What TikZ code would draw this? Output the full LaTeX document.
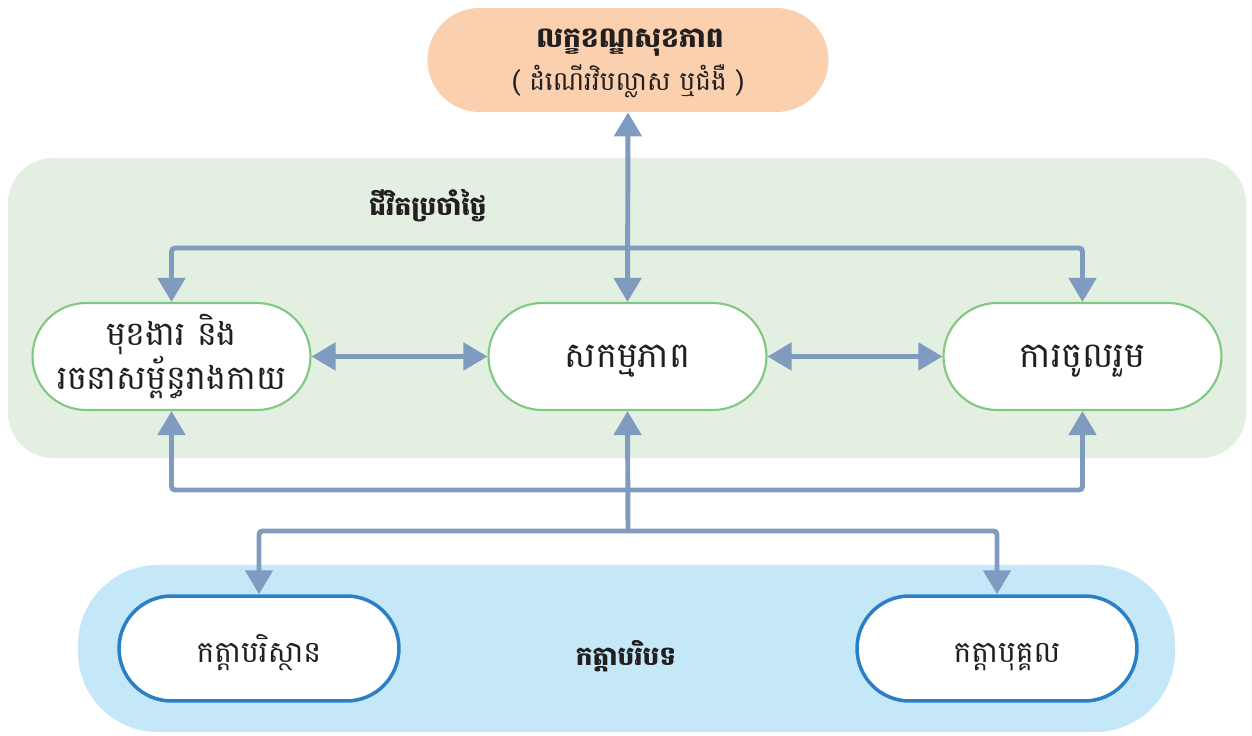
\documentclass[tikz,border=0pt]{standalone}
\usepackage{fontspec}
\newfontfamily\khmer[Script=Khmer]{Battambang}
\usepackage{tikz}
\usetikzlibrary{arrows.meta, positioning}

\definecolor{peach}{HTML}{FAD0AF}
\definecolor{lifebg}{HTML}{E3EFE0}
\definecolor{lifeline}{HTML}{80C883}
\definecolor{ctxbg}{HTML}{C5E8F8}
\definecolor{ctxline}{HTML}{2A7FC6}
\definecolor{arrowblue}{HTML}{7F9BC0}
\definecolor{ink}{HTML}{231F20}

\tikzset{
	box/.style={rectangle, fill=white, text=ink, align=center, font=\khmer\fontsize{20}{26}\selectfont},
	oneline/.style={text height=0.7cm, text depth=0.24cm},
	lifebox/.style={box, draw=lifeline, line width=1.2pt, minimum width=5.56cm, minimum height=2.14cm, rounded corners=1.07cm},
	ctxbox/.style={box, oneline, draw=ctxline, line width=2pt, minimum width=5.6cm, minimum height=2.1cm, rounded corners=1.05cm, font=\khmer\fontsize{17}{22}\selectfont, text height=0.8cm, text depth=0.22cm},
	title/.style={text=ink, font=\khmer\bfseries\fontsize{15}{20}\selectfont},
	arr/.style={draw=arrowblue, line width=2.8pt, rounded corners=2pt, >={Triangle[length=0.48cm, width=0.54cm]}, arrowblue}
}

\begin{document}
\begin{tikzpicture}[x=0.02cm, y=-0.02cm]
	\useasboundingbox (0,0) rectangle (1252,736);
	%\draw[step=50, color=gray] (0,0) grid (1252,736);
	% backgrounds
	\fill[lifebg, rounded corners=0.9cm] (8,158) rectangle (1246,458);
	\fill[ctxbg, rounded corners=1.6cm] (78,565) rectangle (1175,732);

	% health condition
	\node[box, fill=peach, minimum width=8.02cm, minimum height=2.08cm, rounded corners=1.04cm] (health) at (628,60) {};
	\node[title, font=\khmer\bfseries\fontsize{16}{20}\selectfont] (healthtitle) at (630,43) {លក្ខខណ្ឌសុខភាព};
	\node[text=ink, font=\khmer\fontsize{15}{20}\selectfont] (healthsub) at (628,81) {( ដំណើរវិបល្លាស ឬជំងឺ )};

	% daily life
	\node[title] (life) at (428,206) {ជីវិតប្រចាំថ្ងៃ};
	\node[lifebox, font=\khmer\fontsize{19}{23}\selectfont] (body) at (171.5,356.5) {មុខងារ និង\\រចនាសម្ព័ន្ធរាងកាយ};
	\node[lifebox, oneline] (act) at (627.5,356.5) {សកម្មភាព};
	\node[lifebox, oneline] (part) at (1082.5,356.5) {ការចូលរួម};

	% context
	\node[title] (ctx) at (626,656) {កត្តាបរិបទ};
	\node[ctxbox] (env) at (259,648.5) {កត្តាបរិស្ថាន};
	\node[ctxbox] (pers) at (997,648.5) {\hspace{0.4cm}កត្តាបុគ្គល};

	\coordinate (topbar) at (628,248);
	\coordinate (botbar) at (628,490);
	\coordinate (split) at (628,531);

	% connectors
	\draw[arr, <->] (health.south) -- (act.north);
	\draw[arr, <->] (body.north) -- (body.north |- topbar) -- (part.north |- topbar) -- (part.north);
	\draw[arr, <->] (body.east) -- (act.west);
	\draw[arr, <->] (act.east) -- (part.west);
	\draw[arr, <->] (body.south) -- (body.south |- botbar) -- (part.south |- botbar) -- (part.south);
	\draw[arr, ->] (split) -- (act.south);
	\draw[arr, <->] (env.north) -- (env.north |- split) -- (pers.north |- split) -- (pers.north);
\end{tikzpicture}
\end{document}
